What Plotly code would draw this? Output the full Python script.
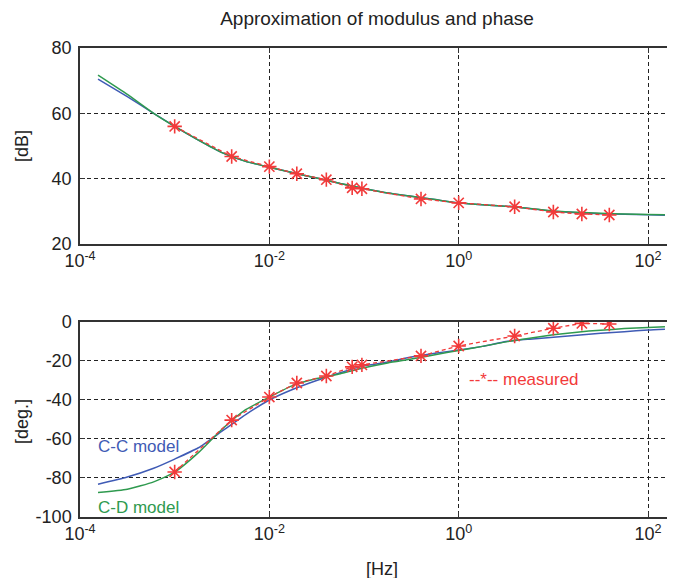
import plotly.graph_objects as go
from plotly.subplots import make_subplots

# ---------------- data ----------------
model_freq = [1.55e-4, 3.16e-4, 6.0e-4, 1.0e-3, 1.78e-3, 3.16e-3, 5.62e-3, 1.0e-2,
              1.78e-2, 3.16e-2, 5.62e-2, 0.1, 0.178, 0.316, 0.562, 1.0, 1.78, 3.16,
              5.62, 10.0, 17.8, 31.6, 56.2, 100.0, 151.0]

cc_mag = [70.5, 65.1, 60.0, 56.0, 51.8, 48.0, 45.3, 43.5, 41.8, 40.2, 38.5, 37.0,
          35.6, 34.6, 33.6, 32.6, 32.0, 31.6, 30.9, 30.0, 29.6, 29.3, 29.1, 28.95, 28.8]
cd_mag = [71.7, 65.8, 60.0, 56.0, 51.8, 48.0, 45.3, 43.5, 41.8, 40.2, 38.5, 37.0,
          35.6, 34.6, 33.6, 32.6, 32.0, 31.6, 30.9, 30.1, 29.7, 29.4, 29.2, 29.05, 29.0]

cc_phase = [-83.2, -79.5, -75.0, -70.3, -64.5, -56.0, -47.5, -40.0, -34.5, -30.0,
            -26.0, -22.5, -20.5, -18.0, -16.0, -14.4, -12.5, -10.0, -8.8, -7.8,
            -6.8, -5.8, -5.0, -4.1, -3.7]
cd_phase = [-87.5, -85.8, -82.0, -77.0, -67.0, -55.0, -45.0, -38.5, -32.5, -29.0,
            -26.5, -23.5, -21.0, -19.0, -16.8, -14.6, -12.5, -10.2, -8.3, -6.6,
            -5.2, -4.2, -3.4, -2.8, -2.4]

meas_freq = [0.001, 0.004, 0.01, 0.0195, 0.04, 0.075, 0.095, 0.4, 1.0, 3.9, 10.0, 20.0, 39.0]
meas_mag = [56.0, 46.8, 43.7, 41.5, 39.7, 37.2, 36.9, 33.8, 32.6, 31.4, 29.8, 29.2, 28.9]
meas_phase = [-76.9, -50.3, -38.5, -31.3, -27.7, -23.0, -22.0, -17.4, -12.3, -7.2, -3.2, -0.7, -1.0]

x_tickvals = [1e-4, 1e-2, 1, 1e2]
x_ticktext = ["10<sup>-4</sup>", "10<sup>-2</sup>", "10<sup>0</sup>", "10<sup>2</sup>"]
mag_ticks = [20, 40, 60, 80]
mag_ticktext = ["20", "40", "60", "80"]
phase_ticks = [-100, -80, -60, -40, -20, 0]
phase_ticktext = ["-100", "-80", "-60", "-40", "-20", "0"]

BLUE = "#3f5bb5"
GREEN = "#2f9a4f"
RED = "#f23a3a"
FONT = "Liberation Sans, Arial, sans-serif"

# the page body has an 8px margin: figure is sized so that it ends at the window edge
W, H = 667, 570

fig = make_subplots(rows=2, cols=1)

def add_panel(row, cc, cd, meas):
    fig.add_trace(go.Scatter(x=model_freq, y=cc, mode="lines", line_shape="spline",
                             line=dict(color=BLUE, width=1.5, smoothing=0.5),
                             showlegend=False), row=row, col=1)
    fig.add_trace(go.Scatter(x=model_freq, y=cd, mode="lines", line_shape="spline",
                             line=dict(color=GREEN, width=1.5, smoothing=0.5),
                             showlegend=False), row=row, col=1)
    fig.add_trace(go.Scatter(x=meas_freq, y=meas, mode="lines+markers",
                             line=dict(color=RED, width=1.3, dash="4px,3px"),
                             marker=dict(symbol="asterisk-open", size=12,
                                         line=dict(color=RED, width=1.6)),
                             showlegend=False), row=row, col=1)

add_panel(1, cc_mag, cd_mag, meas_mag)
add_panel(2, cc_phase, cd_phase, meas_phase)

xcommon = dict(type="log", range=[-4, 2.285], tickmode="array",
               tickvals=x_tickvals, ticktext=x_ticktext,
               showgrid=True, gridcolor="#222", gridwidth=1.2, griddash="4px,3px",
               showline=True, linecolor="#333", linewidth=1.5, mirror="ticks",
               ticks="inside", ticklen=5, tickcolor="#333",
               tickfont=dict(family=FONT, size=18, color="#222"), zeroline=False)
fig.update_xaxes(**xcommon)
fig.update_xaxes(domain=[0, 1])

ycommon = dict(showgrid=True, gridcolor="#222", gridwidth=1.2, griddash="4px,3px",
               showline=True, linecolor="#333", linewidth=1.5, mirror=False,
               ticks="inside", ticklen=5, tickcolor="#333", zeroline=False,
               tickmode="array",
               tickfont=dict(family=FONT, size=18, color="#222"), ticklabelstandoff=3)
fig.update_yaxes(**ycommon)
fig.update_yaxes(range=[20, 80], tickvals=mag_ticks, ticktext=mag_ticktext,
                 domain=[0.582, 1.0], row=1, col=1)
fig.update_yaxes(range=[-100, 0], tickvals=phase_ticks, ticktext=phase_ticktext,
                 domain=[0.0, 0.4158], row=2, col=1)

ann = [
    dict(text="C-C model", x=0.027, y=0.1493, xanchor="left", yanchor="middle",
         font=dict(color=BLUE, size=17, family=FONT)),
    dict(text="C-D model", x=0.027, y=0.0213, xanchor="left", yanchor="middle",
         font=dict(color=GREEN, size=17, family=FONT)),
    dict(text="--*-- measured", x=0.650, y=0.294, xanchor="left", yanchor="middle",
         font=dict(color=RED, size=17, family=FONT)),
    dict(text="[dB]", x=-0.0975, y=0.791, textangle=-90, xanchor="center", yanchor="middle",
         font=dict(color="#222", size=18, family=FONT)),
    dict(text="[deg.]", x=-0.0975, y=0.2047, textangle=-90, xanchor="center", yanchor="middle",
         font=dict(color="#222", size=18, family=FONT)),
    dict(text="[Hz]", x=0.5076, y=-0.1109, xanchor="center", yanchor="middle",
         font=dict(color="#222", size=18, family=FONT)),
]
for a in ann:
    fig.add_annotation(xref="paper", yref="paper", showarrow=False, **a)

fig.update_layout(
    width=W, height=H,
    margin=dict(l=72, r=0, t=40, b=61),
    paper_bgcolor="white", plot_bgcolor="white",
    title=dict(text="Approximation of modulus and phase", x=369 / W, xanchor="center",
               y=1 - 10 / H, yanchor="middle", xref="container", yref="container",
               font=dict(family=FONT, size=19, color="#222")),
)

fig.write_html("out.html")
